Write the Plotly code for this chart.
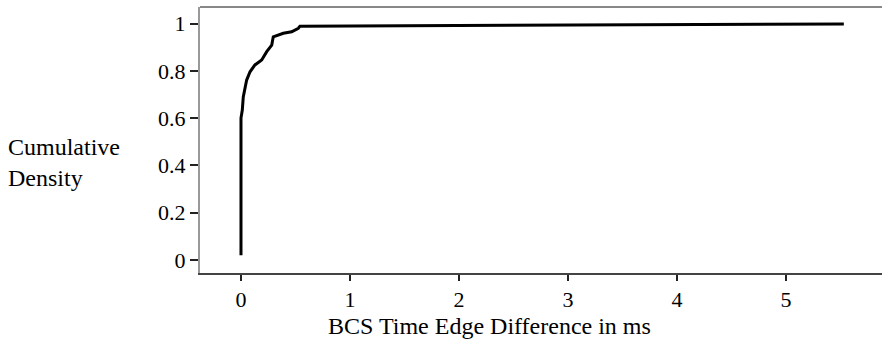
import plotly.graph_objects as go

# CDF of BCS time edge difference (ms)
diff_ms = [0.0, 0.0, 0.012, 0.021, 0.052, 0.083, 0.128, 0.19, 0.236, 0.282, 0.296,
           0.388, 0.465, 0.526, 0.541, 1.2, 2.19, 3.5, 4.5, 5.53]
cum_density = [0.02, 0.60, 0.634, 0.69, 0.761, 0.796, 0.825, 0.846, 0.881, 0.909, 0.944,
               0.959, 0.965, 0.98, 0.989, 0.990, 0.991, 0.994, 0.996, 0.998]

x_ticks = [0, 1, 2, 3, 4, 5]
y_ticks = [0, 0.2, 0.4, 0.6, 0.8, 1]
y_tick_text = ["0", "0.2", "0.4", "0.6", "0.8", "1"]

FONT = "Liberation Serif"
tfont = dict(family=FONT, size=24, color="black")
tickfont = dict(family=FONT, size=22, color="black")

fig = go.Figure()
fig.add_trace(go.Scatter(x=diff_ms, y=cum_density, mode="lines",
                         line=dict(color="black", width=3), showlegend=False))

fig.update_layout(
    width=883, height=348,
    margin=dict(l=200, r=1, t=7, b=75),
    paper_bgcolor="white", plot_bgcolor="white",
    font=tfont,
    xaxis=dict(range=[-0.376, 5.88], tickvals=x_ticks, ticks="outside", ticklen=6,
               tickwidth=1.5, tickcolor="#222", showline=True, linecolor="#444",
               linewidth=2, showgrid=False, zeroline=False, tickfont=tickfont),
    yaxis=dict(range=[-0.055, 1.07], tickvals=y_ticks, ticktext=y_tick_text,
               ticks="outside", ticklen=8, tickwidth=1.5, tickcolor="#222",
               showline=True, linecolor="#999", linewidth=2, showgrid=False,
               zeroline=False, tickfont=tickfont),
    shapes=[dict(type="line", xref="paper", yref="paper", x0=0, x1=1, y0=1, y1=1,
                 line=dict(color="#888", width=2))],
    annotations=[
        dict(text="Cumulative<br>Density", xref="paper", yref="paper",
             x=-0.2845, y=0.417, xanchor="left", yanchor="middle",
             align="left", showarrow=False, font=tfont),
        dict(text="BCS Time Edge Difference in ms", xref="paper", yref="paper",
             x=0.425, y=-0.2, xanchor="center", yanchor="middle",
             showarrow=False, font=tfont),
    ],
)

fig.write_html("out.html")
